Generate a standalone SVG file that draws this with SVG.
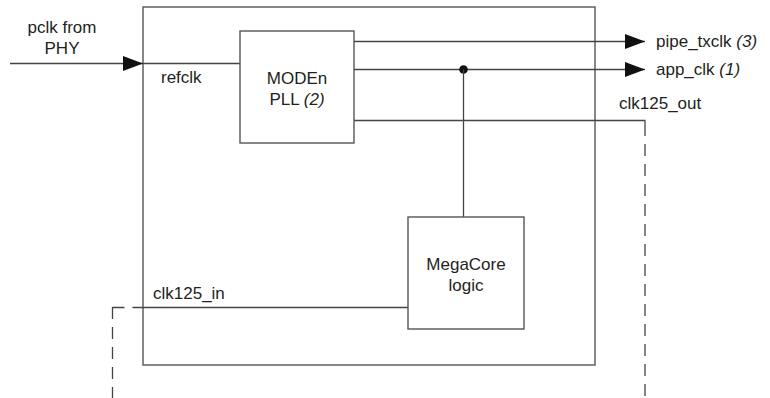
<svg xmlns="http://www.w3.org/2000/svg" width="770" height="398" viewBox="0 0 770 398">
<defs>
<marker id="arr" markerUnits="userSpaceOnUse" markerWidth="20" markerHeight="15" refX="20" refY="7.5" orient="auto">
<path d="M0,0 L20,7.5 L0,15 Z" fill="#111"/>
</marker>
<style>
.t{font-family:"Liberation Sans",Arial,Helvetica,sans-serif;font-size:17px;fill:#231f20}
.i{font-style:italic}
.box{fill:#fff;stroke:#555;stroke-width:1.4}
.ln{fill:none;stroke:#444;stroke-width:1.3}
.dash{fill:none;stroke:#444;stroke-width:1.3;stroke-dasharray:12 8}
</style>
</defs>
<rect width="770" height="398" fill="#fff"/>
<g id="outer">
<rect class="box" x="143" y="7" width="452" height="358"/>
</g>
<g id="connectors">
<line class="ln" x1="10" y1="63.5" x2="143" y2="63.5" stroke="#111" marker-end="url(#arr)"/>
<line class="ln" x1="143" y1="63.5" x2="240" y2="63.5"/>
<line class="ln" x1="354" y1="41.5" x2="645" y2="41.5" marker-end="url(#arr)"/>
<line class="ln" x1="354" y1="69.5" x2="645" y2="69.5" marker-end="url(#arr)"/>
<circle cx="463.5" cy="69.5" r="4.3" fill="#111"/>
<line class="ln" x1="463.5" y1="69.5" x2="463.5" y2="217"/>
<polyline class="ln" points="354,120.5 645,120.5 645,124"/>
<line class="dash" x1="645" y1="124" x2="645" y2="398"/>
<line class="ln" x1="143" y1="307.5" x2="408" y2="307.5"/>
<line class="dash" x1="112.5" y1="307.5" x2="143" y2="307.5"/>
<line class="dash" x1="112.5" y1="307" x2="112.5" y2="398"/>
</g>
<g id="pll">
<rect class="box" x="240" y="31" width="114" height="112"/>
<text class="t" x="297" y="84" text-anchor="middle">MODEn</text>
<text class="t" x="297" y="105" text-anchor="middle">PLL <tspan class="i">(2)</tspan></text>
</g>
<g id="megacore">
<rect class="box" x="408" y="217" width="116" height="112"/>
<text class="t" x="466" y="270" text-anchor="middle">MegaCore</text>
<text class="t" x="466" y="291" text-anchor="middle">logic</text>
</g>
<g id="labels">
<text class="t" x="62" y="33" text-anchor="middle">pclk from</text>
<text class="t" x="62" y="54" text-anchor="middle">PHY</text>
<text class="t" x="161" y="83">refclk</text>
<text class="t" x="656" y="47">pipe_txclk <tspan class="i">(3)</tspan></text>
<text class="t" x="656" y="75">app_clk <tspan class="i">(1)</tspan></text>
<text class="t" x="619" y="109">clk125_out</text>
<text class="t" x="153" y="299">clk125_in</text>
</g>
</svg>
